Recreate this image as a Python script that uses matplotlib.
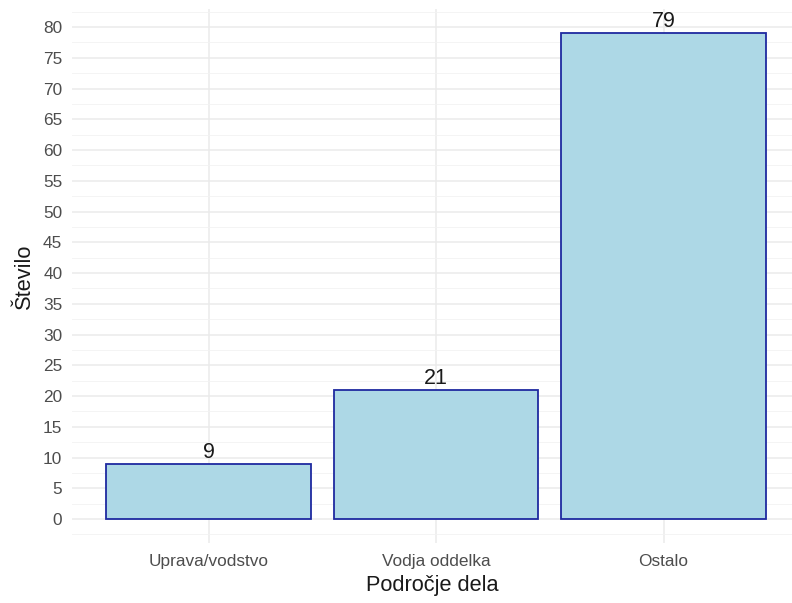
import numpy as np
import matplotlib.pyplot as plt
from matplotlib.ticker import MultipleLocator

plt.rcParams['font.family'] = ['Liberation Sans', 'DejaVu Sans']

# counts per work area
categories = ["Uprava/vodstvo", "Vodja oddelka", "Ostalo"]
counts = [9, 21, 79]

fig = plt.figure(figsize=(7.92, 6.03), dpi=100)
W, H = 792, 603
# panel in pixels: left 72, right 792, bottom 543, top 9
ax = fig.add_axes([72 / W, (H - 543.3) / H, (W - 72) / W, (543.3 - 8.9) / H])

x = np.arange(1, len(categories) + 1)
ax.bar(x, counts, width=0.9, color="lightblue", edgecolor="#1f2aa0",
       linewidth=1.3, zorder=3)

for xi, c in zip(x, counts):
    ax.annotate(str(c), (xi, c), xytext=(0, 0.5), textcoords="offset points",
                ha="center", va="bottom", fontsize=15.5, color="#1a1a1a", zorder=4)

ax.set_xlim(0.4, 0.4 + 720 / 227.5)
ax.set_ylim(-3.95, 82.95)
ax.set_xticks(x)
ax.set_xticklabels(categories)
ax.yaxis.set_major_locator(MultipleLocator(5))
ax.yaxis.set_minor_locator(MultipleLocator(2.5))

ax.grid(True, which="major", color="#ebebeb", linewidth=1.1, zorder=0)
ax.grid(True, which="minor", axis="y", color="#f2f2f2", linewidth=0.6, zorder=0)
ax.set_axisbelow(True)

for s in ax.spines.values():
    s.set_visible(False)
ax.tick_params(which="both", length=0)
ax.tick_params(axis="y", labelsize=12.4, labelcolor="#4d4d4d", pad=7)
ax.tick_params(axis="x", labelsize=12.4, labelcolor="#4d4d4d", pad=8)

ax.set_xlabel("Področje dela", fontsize=15.7, color="#1a1a1a", labelpad=4)
ax.set_ylabel("Število", fontsize=15.7, color="#1a1a1a", labelpad=6)

fig.savefig("out.png", dpi=100)
